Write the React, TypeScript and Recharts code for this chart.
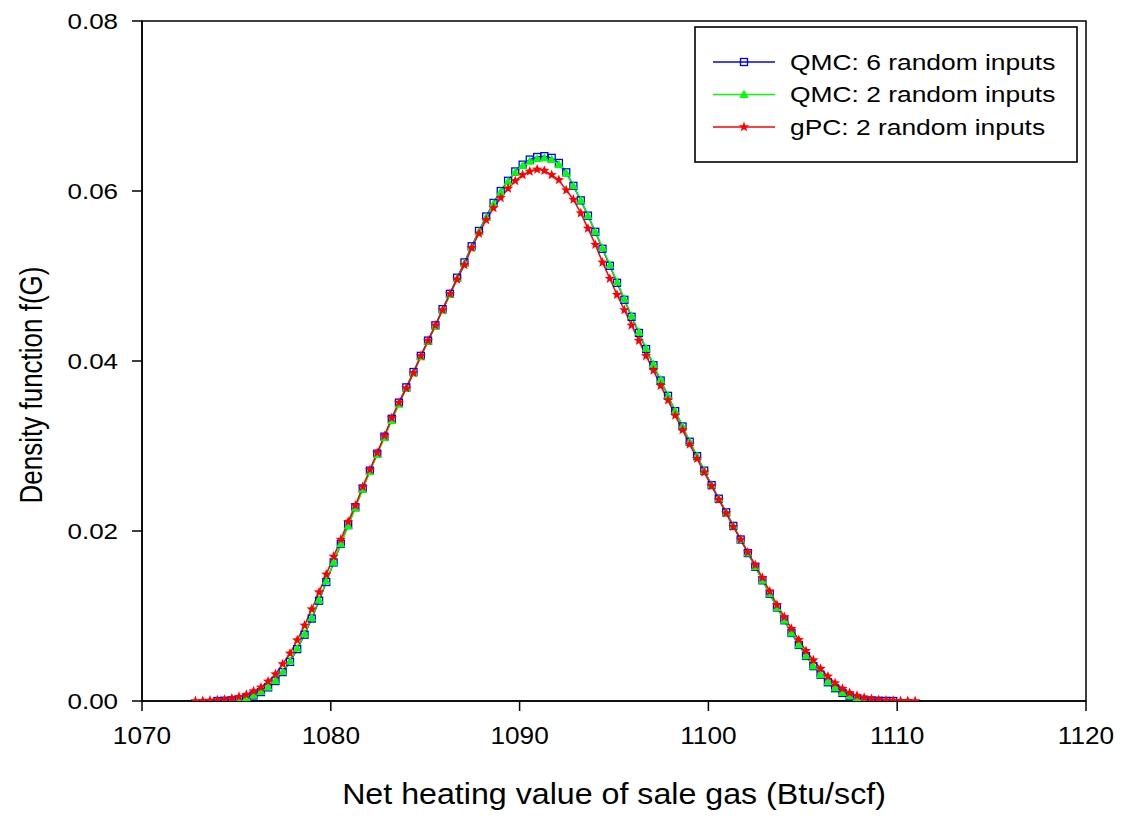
import React from 'react';
import { LineChart, Line, XAxis, YAxis, ReferenceArea } from 'recharts';

const FONT = '"Liberation Sans", Arial, sans-serif';

const xValues = [
  1072.83, 1073.22, 1073.60, 1073.99, 1074.37, 1074.76, 1075.14, 1075.53, 1075.91, 1076.30,
  1076.68, 1077.07, 1077.45, 1077.84, 1078.22, 1078.61, 1078.99, 1079.38, 1079.76, 1080.15,
  1080.53, 1080.92, 1081.30, 1081.69, 1082.07, 1082.46, 1082.84, 1083.23, 1083.61, 1084.00,
  1084.38, 1084.77, 1085.15, 1085.54, 1085.92, 1086.31, 1086.69, 1087.08, 1087.46, 1087.85,
  1088.23, 1088.62, 1089.00, 1089.39, 1089.77, 1090.16, 1090.54, 1090.93, 1091.31, 1091.70,
  1092.08, 1092.47, 1092.85, 1093.24, 1093.62, 1094.01, 1094.39, 1094.78, 1095.16, 1095.55,
  1095.93, 1096.32, 1096.70, 1097.09, 1097.47, 1097.86, 1098.24, 1098.63, 1099.01, 1099.40,
  1099.78, 1100.17, 1100.55, 1100.94, 1101.32, 1101.71, 1102.09, 1102.48, 1102.86, 1103.25,
  1103.63, 1104.02, 1104.40, 1104.79, 1105.17, 1105.56, 1105.94, 1106.33, 1106.71, 1107.10,
  1107.48, 1107.87, 1108.25, 1108.64, 1109.02, 1109.41, 1109.79, 1110.18, 1110.56, 1110.95,
];

const qmc6 = [
  null, null, null, 0, 0.00003, 0.00008, 0.00018, 0.00035, 0.00065, 0.00105,
  0.00160, 0.00235, 0.00340, 0.00460, 0.00610, 0.00780, 0.00970, 0.01180, 0.01400, 0.01630,
  0.01850, 0.02070, 0.02280, 0.02500, 0.02710, 0.02910, 0.03110, 0.03320, 0.03510, 0.03690,
  0.03870, 0.04060, 0.04240, 0.04420, 0.04610, 0.04790, 0.04980, 0.05160, 0.05350, 0.05530,
  0.05700, 0.05860, 0.06000, 0.06120, 0.06230, 0.06310, 0.06370, 0.06400, 0.06410, 0.06390,
  0.06330, 0.06220, 0.06060, 0.05890, 0.05710, 0.05520, 0.05320, 0.05120, 0.04920, 0.04720,
  0.04520, 0.04330, 0.04140, 0.03950, 0.03770, 0.03590, 0.03410, 0.03230, 0.03050, 0.02880,
  0.02710, 0.02540, 0.02380, 0.02220, 0.02060, 0.01900, 0.01740, 0.01580, 0.01420, 0.01260,
  0.01100, 0.00950, 0.00800, 0.00660, 0.00530, 0.00410, 0.00310, 0.00220, 0.00150, 0.00095,
  0.00055, 0.00030, 0.00015, 0.00007, 0.00003, 0.00001, 0, null, null, null,
];

const qmc2 = [
  null, null, null, 0, 0.00004, 0.00010, 0.00020, 0.00038, 0.00068, 0.00110,
  0.00165, 0.00240, 0.00345, 0.00470, 0.00620, 0.00790, 0.00980, 0.01190, 0.01410, 0.01630,
  0.01850, 0.02060, 0.02270, 0.02490, 0.02700, 0.02900, 0.03100, 0.03300, 0.03490, 0.03680,
  0.03860, 0.04050, 0.04230, 0.04410, 0.04600, 0.04780, 0.04970, 0.05150, 0.05340, 0.05520,
  0.05690, 0.05850, 0.05990, 0.06110, 0.06220, 0.06300, 0.06350, 0.06380, 0.06390, 0.06370,
  0.06310, 0.06210, 0.06060, 0.05890, 0.05710, 0.05520, 0.05330, 0.05130, 0.04930, 0.04730,
  0.04530, 0.04340, 0.04150, 0.03960, 0.03780, 0.03590, 0.03410, 0.03230, 0.03050, 0.02880,
  0.02710, 0.02540, 0.02380, 0.02220, 0.02060, 0.01900, 0.01740, 0.01580, 0.01420, 0.01260,
  0.01100, 0.00950, 0.00800, 0.00660, 0.00530, 0.00410, 0.00310, 0.00225, 0.00155, 0.00100,
  0.00060, 0.00033, 0.00017, 0.00008, 0.00003, 0.00001, 0, null, null, null,
];

const gpc = [
  0, 0.00002, 0.00006, 0.00010, 0.00016, 0.00030, 0.00050, 0.00075, 0.00115, 0.00160,
  0.00230, 0.00315, 0.00435, 0.00560, 0.00715, 0.00890, 0.01080, 0.01280, 0.01490, 0.01700,
  0.01900, 0.02110, 0.02300, 0.02520, 0.02720, 0.02920, 0.03120, 0.03330, 0.03510, 0.03680,
  0.03860, 0.04060, 0.04240, 0.04420, 0.04600, 0.04790, 0.04960, 0.05130, 0.05330, 0.05500,
  0.05660, 0.05800, 0.05920, 0.06030, 0.06120, 0.06190, 0.06230, 0.06255, 0.06240, 0.06190,
  0.06130, 0.06010, 0.05900, 0.05740, 0.05560, 0.05370, 0.05160, 0.04970, 0.04780, 0.04600,
  0.04420, 0.04240, 0.04060, 0.03890, 0.03710, 0.03540, 0.03360, 0.03190, 0.03020, 0.02850,
  0.02690, 0.02530, 0.02370, 0.02210, 0.02050, 0.01900, 0.01750, 0.01600, 0.01450, 0.01290,
  0.01130, 0.00990, 0.00850, 0.00720, 0.00590, 0.00480, 0.00380, 0.00290, 0.00210, 0.00145,
  0.00095, 0.00062, 0.00040, 0.00025, 0.00014, 0.00008, 0.00004, 0.00002, 0.00001, 0,
];

const xTicks = [1070, 1080, 1090, 1100, 1110, 1120];
const yTicks = [0, 0.02, 0.04, 0.06, 0.08];
const seriesNames = ['QMC: 6 random inputs', 'QMC: 2 random inputs', 'gPC: 2 random inputs'];
const seriesColors = ['#0000ff', '#00ff00', '#ff0000'];
const xTitle = 'Net heating value of sale gas (Btu/scf)';
const yTitle = 'Density function f(G)';

const data = xValues.map((x, i) => ({ x, qmc6: qmc6[i], qmc2: qmc2[i], gpc: gpc[i] }));

const starPoints = (cx: number, cy: number, R: number, r: number) => {
  const pts: string[] = [];
  for (let i = 0; i < 10; i++) {
    const a = -Math.PI / 2 + (i * Math.PI) / 5;
    const rad = i % 2 === 0 ? R : r;
    pts.push(`${cx + rad * Math.cos(a)},${cy + rad * Math.sin(a)}`);
  }
  return pts.join(' ');
};

const Marker = ({ kind, cx, cy }: { kind: number; cx: number; cy: number }) => {
  if (kind === 0) {
    return <rect x={cx - 3.5} y={cy - 3.5} width={7} height={7} fill="none" stroke={seriesColors[0]} strokeWidth={1.3} />;
  }
  if (kind === 1) {
    return (
      <polygon
        points={`${cx},${cy - 4.8} ${cx - 4.6},${cy + 3.4} ${cx + 4.6},${cy + 3.4}`}
        fill={seriesColors[1]}
        stroke="none"
      />
    );
  }
  return <polygon points={starPoints(cx, cy, 5.4, 2.3)} fill={seriesColors[2]} stroke="none" />;
};

const makeDot = (kind: number) => (props: any) => {
  const { cx, cy, index } = props;
  if (cx == null || cy == null || Number.isNaN(cx) || Number.isNaN(cy)) {
    return <g key={`e-${kind}-${index}`} />;
  }
  return (
    <g key={`d-${kind}-${index}`}>
      <Marker kind={kind} cx={cx} cy={cy} />
    </g>
  );
};

const XTick = (props: any) => {
  const { x, y, payload } = props;
  return (
    <g transform={`translate(${x},${y}) scale(1.14,1)`}>
      <text x={0} y={0} dy="0.71em" textAnchor="middle" fontSize={23} fontFamily={FONT} fill="#000">
        {payload.value}
      </text>
    </g>
  );
};

const YTick = (props: any) => {
  const { x, y, payload } = props;
  return (
    <g transform={`translate(${x},${y}) scale(1.18,1)`}>
      <text x={0} y={0} dy="0.355em" textAnchor="end" fontSize={22} fontFamily={FONT} fill="#000">
        {Number(payload.value).toFixed(2)}
      </text>
    </g>
  );
};

const LegendBox = () => (
  <svg
    width={1114}
    height={808}
    style={{ position: 'absolute', left: 0, top: 0, pointerEvents: 'none' }}
  >
    <rect x={687} y={19} width={382} height={135} fill="#fff" stroke="#000" strokeWidth={1.6} />
    {seriesNames.map((name, i) => {
      const cy = 54 + i * 32.5;
      return (
        <g key={name}>
          <line x1={705} y1={cy} x2={767} y2={cy} stroke={seriesColors[i]} strokeWidth={1.6} />
          <Marker kind={i} cx={736} cy={cy} />
          <g transform={`translate(782,${cy + 7.9}) scale(1.2,1)`}>
            <text x={0} y={0} fontSize={22} fontFamily={FONT} fill="#000">
              {name}
            </text>
          </g>
        </g>
      );
    })}
  </svg>
);

export default function App() {
  return (
    <div style={{ position: 'relative', width: 1114, height: 808, background: '#fff' }}>
      <LineChart width={1114} height={808} data={data} margin={{ top: 13, right: 36, bottom: 0, left: 0 }}>
        <XAxis
          dataKey="x"
          type="number"
          domain={[1070, 1120]}
          ticks={xTicks}
          allowDataOverflow
          height={115}
          tickSize={10}
          tickMargin={17}
          stroke="#000"
          strokeWidth={1.5}
          tick={<XTick />}
          label={() => (
            <g transform="translate(606,796) scale(1.11,1)">
              <text x={0} y={0} textAnchor="middle" fill="#000" fontSize={29} fontFamily={FONT}>
                {xTitle}
              </text>
            </g>
          )}
        />
        <YAxis
          type="number"
          domain={[0, 0.08]}
          ticks={yTicks}
          allowDataOverflow
          width={134}
          tickSize={10}
          tickMargin={14}
          stroke="#000"
          strokeWidth={1.5}
          tick={<YTick />}
          label={() => (
            <g transform="translate(23,377) scale(1.2,1) rotate(-90)">
              <text x={0} y={0} textAnchor="middle" dominantBaseline="central" fill="#000" fontSize={26} fontFamily={FONT}>
                {yTitle}
              </text>
            </g>
          )}
        />
        <ReferenceArea x1={1070} x2={1120} y1={0} y2={0.08} fill="none" fillOpacity={0} stroke="#000" strokeWidth={1.5} />
        <Line
          dataKey="qmc6"
          name={seriesNames[0]}
          type="linear"
          stroke={seriesColors[0]}
          strokeWidth={1.5}
          dot={makeDot(0)}
          activeDot={false}
          isAnimationActive={false}
        />
        <Line
          dataKey="qmc2"
          name={seriesNames[1]}
          type="linear"
          stroke={seriesColors[1]}
          strokeWidth={1.5}
          dot={makeDot(1)}
          activeDot={false}
          isAnimationActive={false}
        />
        <Line
          dataKey="gpc"
          name={seriesNames[2]}
          type="linear"
          stroke={seriesColors[2]}
          strokeWidth={1.5}
          dot={makeDot(2)}
          activeDot={false}
          isAnimationActive={false}
        />
      </LineChart>
      <LegendBox />
    </div>
  );
}
